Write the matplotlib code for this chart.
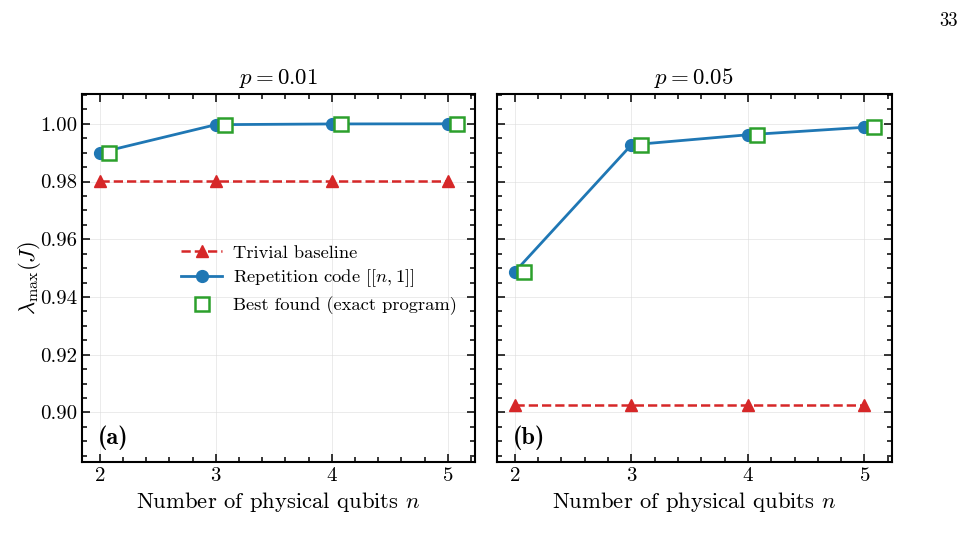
import numpy as np
import matplotlib
matplotlib.use('Agg')
import matplotlib.pyplot as plt
from matplotlib.ticker import MultipleLocator, AutoMinorLocator

# data
n_qubits = [2, 3, 4, 5]
panel_titles = [r'$p = 0.01$', r'$p = 0.05$']
panel_tags = ['(a)', '(b)']

baseline_p001 = [0.9801, 0.9801, 0.9801, 0.9801]
repetition_p001 = [0.9900, 0.9997, 0.99995, 1.0000]
best_p001 = [0.9900, 0.9997, 0.99995, 1.0000]

baseline_p005 = [0.9025, 0.9025, 0.9025, 0.9025]
repetition_p005 = [0.9487, 0.9927, 0.9962, 0.9988]
best_p005 = [0.9487, 0.9927, 0.9962, 0.9988]

BEST_OFFSET = 0.08

plt.rcParams['font.family'] = 'serif'
plt.rcParams['font.serif'] = ['cmr10', 'DejaVu Serif']
plt.rcParams['mathtext.fontset'] = 'cm'
plt.rcParams['axes.formatter.use_mathtext'] = True


def draw_panel(ax, baseline, repetition, best, title, tag):
  x = np.array(n_qubits, dtype=float)
  ax.plot(x, baseline, '--', color='#d62728', lw=1.8, marker='^', ms=8,
          label='Trivial baseline')
  ax.plot(x, repetition, '-', color='#1f77b4', lw=2.0, marker='o', ms=8.5,
          label=r'Repetition code $[[n, 1]]$')
  ax.plot(x + BEST_OFFSET, best, ls='none', marker='s', ms=9.8, mfc='white',
          mec='#2ca02c', mew=1.8, label='Best found (exact program)')

  ax.set_title(title, fontsize=16.5, pad=7)
  ax.set_xlabel(r'Number of physical qubits $n$', fontsize=16.3)
  ax.set_xticks(n_qubits)
  ax.set_ylim(0.8828, 1.0103)
  ax.yaxis.set_major_locator(MultipleLocator(0.02))
  ax.xaxis.set_minor_locator(AutoMinorLocator(5))
  ax.yaxis.set_minor_locator(AutoMinorLocator(4))
  ax.tick_params(which='both', direction='in', top=True, right=True,
                 labelsize=15, width=1.1)
  ax.tick_params(which='major', length=6)
  ax.tick_params(which='minor', length=3.5)
  ax.grid(True, which='major', color='#dddddd', lw=0.6, alpha=0.7)
  for s in ax.spines.values():
    s.set_linewidth(1.5)
  ax.text(0.04, 0.05, tag, transform=ax.transAxes, fontsize=17.5,
          fontfamily='cmb10')


def main():
  fig = plt.figure(figsize=(9.63, 5.6), dpi=100)
  ax1 = fig.add_axes([0.0852, 0.175, 0.408, 0.657])
  ax2 = fig.add_axes([0.516, 0.175, 0.410, 0.657], sharey=ax1)

  draw_panel(ax1, baseline_p001, repetition_p001, best_p001,
             panel_titles[0], panel_tags[0])
  draw_panel(ax2, baseline_p005, repetition_p005, best_p005,
             panel_titles[1], panel_tags[1])
  ax2.tick_params(labelleft=False)

  ax1.set_ylabel(r'$\lambda_{\max}(J)$', fontsize=16.3)
  ax1.yaxis.set_label_coords(-0.10, 0.5)
  ax1.yaxis.set_major_formatter(matplotlib.ticker.FormatStrFormatter('%.2f'))

  ax1.legend(loc='center left', bbox_to_anchor=(0.21, 0.495), frameon=False,
             fontsize=13.3, handlelength=2.2, labelspacing=0.38,
             handletextpad=0.6)

  fig.text(0.995, 0.962, '33', ha='right', va='center', fontsize=13.5)

  fig.savefig('out.png', dpi=100)


if __name__ == '__main__':
  main()
